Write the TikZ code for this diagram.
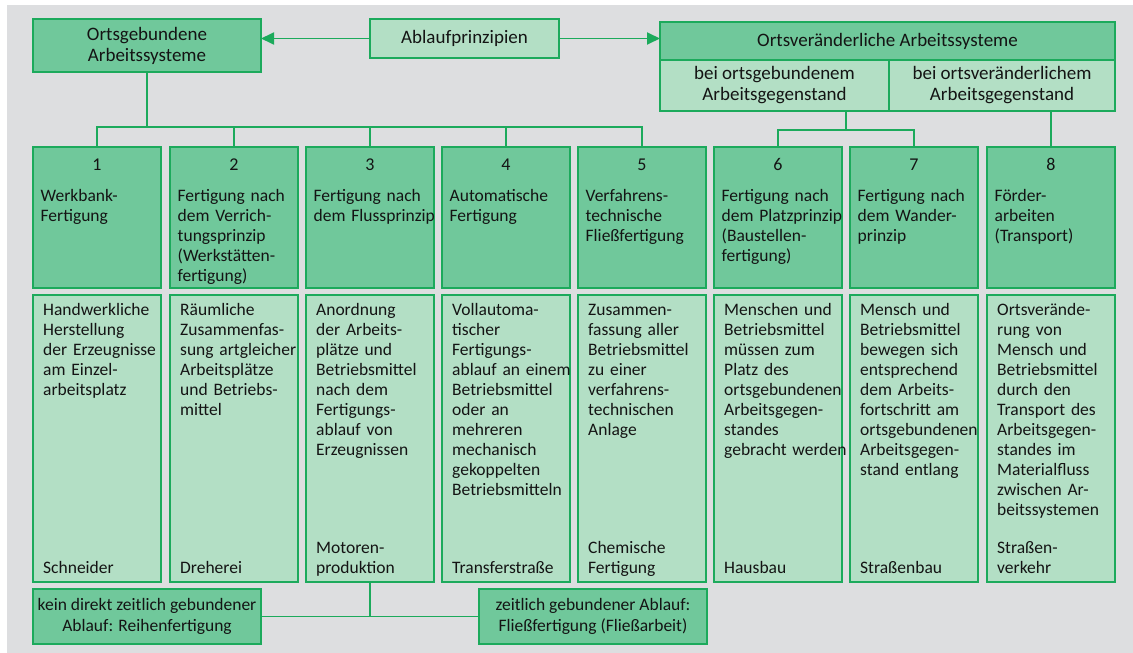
\documentclass[tikz,border=0pt]{standalone}
\usepackage{fontspec}
\setmainfont{Carlito}
\usetikzlibrary{arrows.meta,calc}
\definecolor{gborder}{RGB}{28,170,92}
\definecolor{gdark}{RGB}{112,200,155}
\definecolor{glight}{RGB}{179,223,197}
\definecolor{bgc}{RGB}{221,222,224}
\definecolor{txt}{RGB}{20,20,20}
\tikzset{
  box/.style={draw=gborder, line width=1.8pt, inner sep=0pt, outer sep=0pt},
  dark/.style={box, fill=gdark},
  light/.style={box, fill=glight},
  conn/.style={draw=gborder, line width=1.8pt},
  hdr/.style={font=\fontsize{19}{21}\selectfont, align=center, text=txt},
  sub/.style={font=\fontsize{17.5}{21}\selectfont, align=center, text=txt},
  body/.style={font=\fontsize{17.5}{20}\selectfont, align=left, text width=125pt, inner sep=0pt, text=txt},
  num/.style={font=\fontsize{18}{20}\selectfont, inner sep=0pt, text=txt},
  arr/.style={conn, -{Triangle[length=13pt,width=12pt]}}
}
\newcommand\mkcol[6]{%
  \node[dark, minimum width=128pt, minimum height=141pt, anchor=north west] (t#1) at (#2,147) {};
  \node[num, anchor=base] (n#1) at ([yshift=-23pt]t#1.north) {#1};
  \node[body, anchor=north west] (h#1) at ([xshift=7.5pt,yshift=-40pt]t#1.north west) {\strut #3};
  \node[light, minimum width=128pt, minimum height=287pt, anchor=north west] (b#1) at (#2,295) {};
  \node[body, anchor=north west] (d#1) at ([xshift=10pt,yshift=-6pt]b#1.north west) {\strut #4};
  \node[body, anchor=south west] (f#1) at ([xshift=10pt,yshift=2pt]b#1.south west) {#5\strut};
}
\begin{document}
\begin{tikzpicture}[x=1pt,y=-1pt]
\useasboundingbox (0,0) rectangle (1133,653);
\fill[white] (0,0) rectangle (1133,653);
\fill[bgc] (7,5) rectangle (1133,653);

% headers
\node[dark, hdr, minimum width=228pt, minimum height=53pt] (og) at (147,45.5) {Ortsgebundene\\Arbeitssysteme};
\node[light, hdr, minimum width=189pt, minimum height=39pt] (abl) at (464.5,38.5) {Ablaufprinzipien};
\node[dark, hdr, minimum width=455pt, minimum height=38pt] (ov) at (887.5,41) {Ortsveränderliche Arbeitssysteme};
\node[light, hdr, minimum width=229pt, minimum height=51pt] (ov1) at (774.5,85.5) {bei ortsgebundenem\\Arbeitsgegenstand};
\node[light, hdr, minimum width=226pt, minimum height=51pt] (ov2) at (1002,85.5) {bei ortsveränderlichem\\Arbeitsgegenstand};

% columns
\mkcol{1}{33}{Werkbank-\\Fertigung}{Handwerkliche\\Herstellung\\der Erzeugnisse\\am Einzel-\\arbeitsplatz}{Schneider}{}
\mkcol{2}{170}{Fertigung nach\\dem Verrich-\\tungsprinzip\\(Werkstätten-\\fertigung)}{Räumliche\\Zusammenfas-\\sung artgleicher\\Arbeitsplätze\\und Betriebs-\\mittel}{Dreherei}{}
\mkcol{3}{306}{Fertigung nach\\dem Flussprinzip}{Anordnung\\der Arbeits-\\plätze und\\Betriebsmittel\\nach dem\\Fertigungs-\\ablauf von\\Erzeugnissen}{Motoren-\\produktion}{}
\mkcol{4}{442}{Automatische\\Fertigung}{Vollautoma-\\tischer\\Fertigungs-\\ablauf an einem\\Betriebsmittel\\oder an\\mehreren\\mechanisch\\gekoppelten\\Betriebsmitteln}{Transferstraße}{}
\mkcol{5}{578}{Verfahrens-\\technische\\Fließfertigung}{Zusammen-\\fassung aller\\Betriebsmittel\\zu einer\\verfahrens-\\technischen\\Anlage}{Chemische\\Fertigung}{}
\mkcol{6}{714}{Fertigung nach\\dem Platzprinzip\\(Baustellen-\\fertigung)}{Menschen und\\Betriebsmittel\\müssen zum\\Platz des\\ortsgebundenen\\Arbeitsgegen-\\standes\\gebracht werden}{Hausbau}{}
\mkcol{7}{850}{Fertigung nach\\dem Wander-\\prinzip}{Mensch und\\Betriebsmittel\\bewegen sich\\entsprechend\\dem Arbeits-\\fortschritt am\\ortsgebundenen\\Arbeitsgegen-\\stand entlang}{Straßenbau}{}
\mkcol{8}{987}{Förder-\\arbeiten\\(Transport)}{Ortsverände-\\rung von\\Mensch und\\Betriebsmittel\\durch den\\Transport des\\Arbeitsgegen-\\standes im\\Materialfluss\\zwischen Ar-\\beitssystemen}{Straßen-\\verkehr}{}

% bottom boxes
\node[dark, sub, minimum width=228pt, minimum height=55pt] (kein) at (147,616.5) {kein direkt zeitlich gebundener\\Ablauf: Reihenfertigung};
\node[dark, sub, minimum width=228pt, minimum height=55pt] (zeit) at (593,616.5) {zeitlich gebundener Ablauf:\\Fließfertigung (Fließarbeit)};

% connectors
\coordinate (busL) at (0,127);
\coordinate (busR) at (0,130);
\coordinate (mid67) at ($(t6.north)!0.5!(t7.north)$);
\draw[arr] (abl.west) -- (abl.west -| og.east);
\draw[arr] (abl.east) -- (abl.east -| ov.west);
\draw[conn] (og.south) -- (og.south |- busL);
\draw[conn] (t1.north) -- (t1.north |- busL) -| (t5.north);
\draw[conn] (t2.north) -- (t2.north |- busL);
\draw[conn] (t3.north) -- (t3.north |- busL);
\draw[conn] (t4.north) -- (t4.north |- busL);
\draw[conn] (ov1.south -| mid67) -- (mid67 |- busR);
\draw[conn] (t6.north) -- (t6.north |- busR) -| (t7.north);
\draw[conn] (t8.north) -- (t8.north |- ov2.south);
\draw[conn] (kein.east) -- (zeit.west);
\draw[conn] (b3.south) -- (b3.south |- kein.east);
\end{tikzpicture}
\end{document}
